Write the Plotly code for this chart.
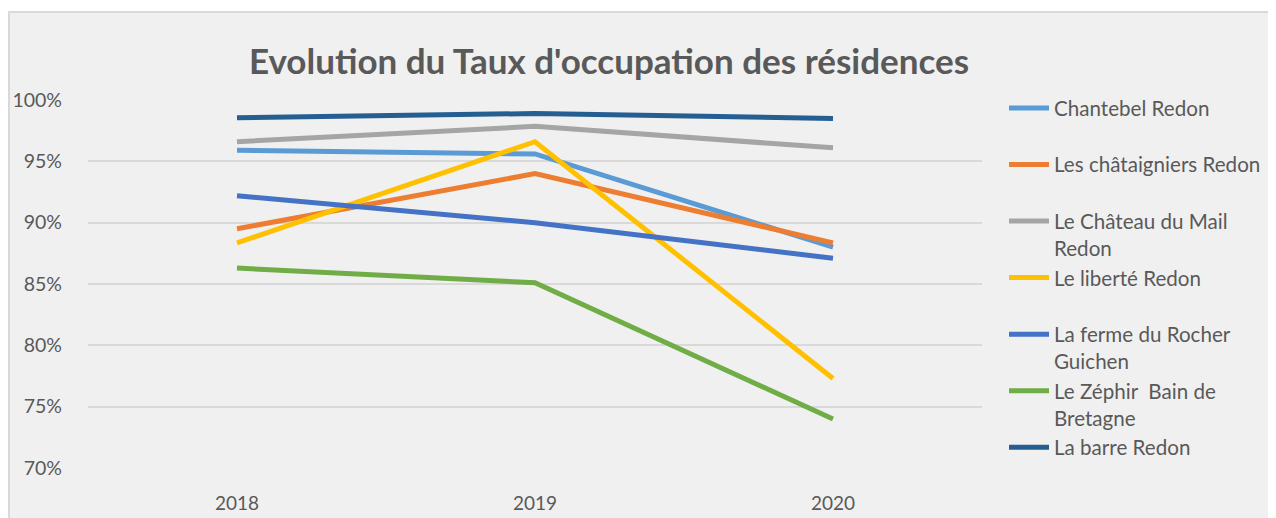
import plotly.graph_objects as go

years = ["2018", "2019", "2020"]

chantebel = [95.9, 95.6, 88.0]
chataigniers = [89.5, 94.0, 88.35]
chateau_mail = [96.6, 97.85, 96.1]
liberte = [88.35, 96.6, 77.3]
ferme_rocher = [92.2, 90.0, 87.1]
zephir = [86.3, 85.1, 74.0]
la_barre = [98.55, 98.9, 98.5]

series = [
    ("Chantebel Redon<br> ", chantebel, "#5B9BD5"),
    ("Les châtaigniers Redon<br> ", chataigniers, "#ED7D31"),
    ("Le Château du Mail<br>Redon", chateau_mail, "#A5A5A5"),
    ("Le liberté Redon<br> ", liberte, "#FFC000"),
    ("La ferme du Rocher<br>Guichen", ferme_rocher, "#4472C4"),
    ("Le Zéphir  Bain de<br>Bretagne", zephir, "#70AD47"),
    ("La barre Redon<br> ", la_barre, "#255E91"),
]

# page body has an 8px margin, so the figure is a bit smaller
W, H = 1268, 510
L, R, T, B = 80, 974, 92, 460

fig = go.Figure()

for i, (name, vals, color) in enumerate(series):
    fig.add_trace(go.Scatter(
        x=years, y=vals,
        mode="lines",
        name=name,
        legendgroup=str(i),
        line=dict(color=color, width=5),
    ))

# chart area background with border
fig.add_shape(
    type="rect", xref="paper", yref="paper",
    x0=(1 - L) / (R - L), x1=1.5,
    y0=-0.5, y1=(B - 4) / (B - T),
    fillcolor="#F0F0F0", line=dict(color="#D9D9D9", width=2),
    layer="below",
)

fig.update_layout(
    width=W, height=H,
    margin=dict(l=L, r=W - R, t=T, b=H - B, autoexpand=False),
    paper_bgcolor="white",
    plot_bgcolor="#F0F0F0",
    font=dict(family="Lato, Open Sans, sans-serif", color="#595959"),
    title=dict(
        text="<b>Evolution du Taux d'occupation des résidences</b>",
        x=601 / W, xanchor="center",
        y=1 - 54 / H, yanchor="middle",
        font=dict(size=35, color="#595959"),
    ),
    xaxis=dict(
        type="category", range=[-0.5, 2.5], automargin=False,
        showgrid=False, showline=False, zeroline=False,
        ticks="", tickfont=dict(size=19), ticklabelstandoff=22,
    ),
    yaxis=dict(
        range=[70, 100], dtick=5, ticksuffix="%", automargin=False,
        showgrid=True, gridcolor="#D9D9D9", gridwidth=1.5,
        zeroline=False, showline=False, ticks="",
        tickfont=dict(size=19.5), ticklabelstandoff=25,
    ),
    legend=dict(
        x=996 / W, xref="container", xanchor="left",
        y=1 - 80 / H, yref="container", yanchor="top",
        font=dict(size=20.6, color="#595959"),
        bgcolor="rgba(0,0,0,0)",
        valign="top",
        tracegroupgap=0,
        itemwidth=40,
        maxheight=480,
    ),
)

fig.write_html("out.html")
